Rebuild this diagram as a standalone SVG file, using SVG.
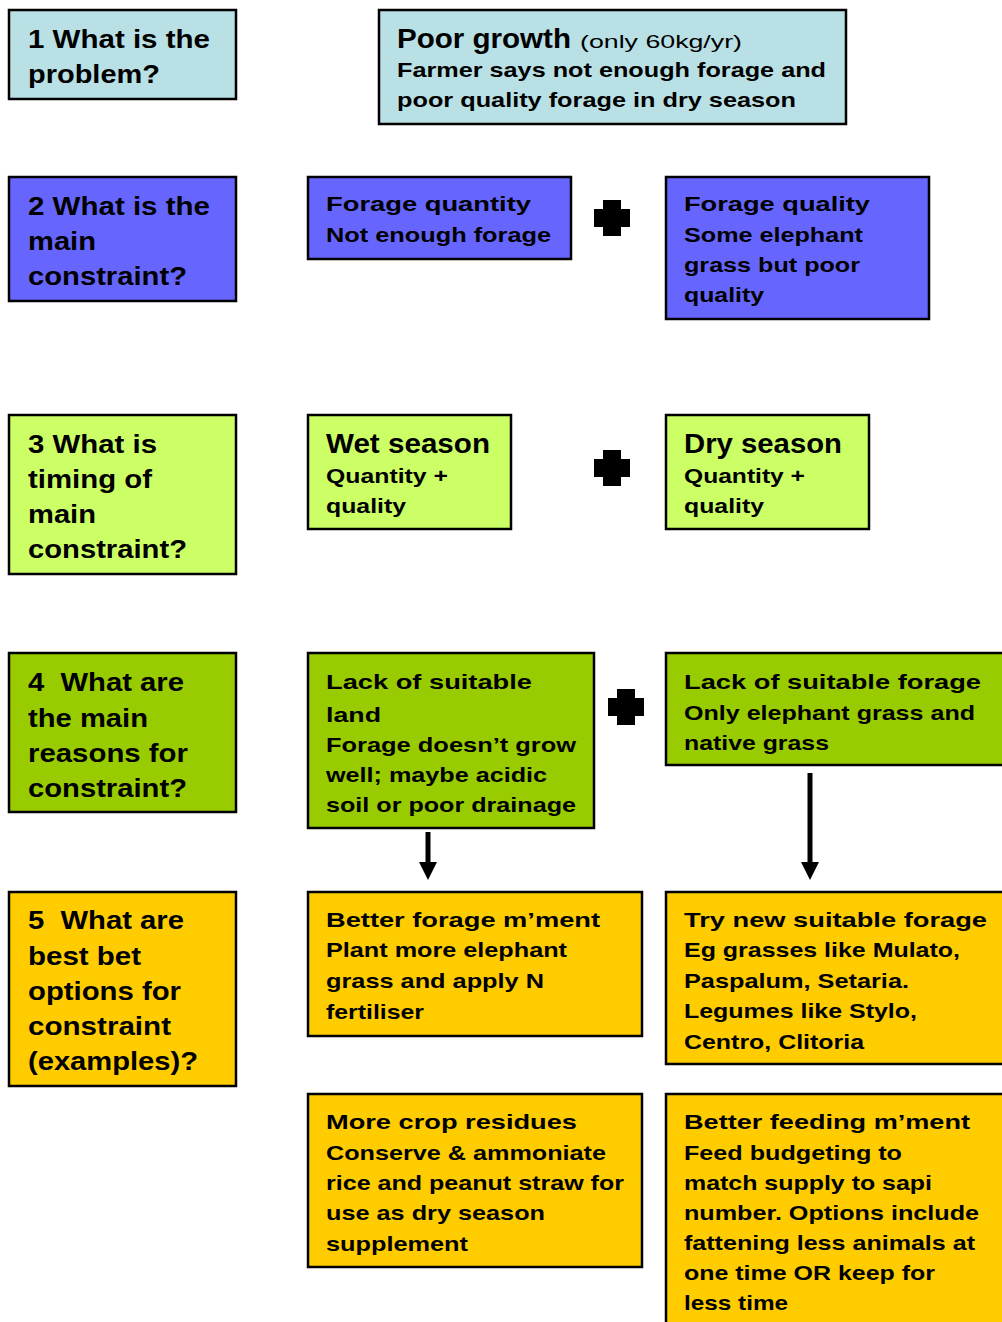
<svg xmlns="http://www.w3.org/2000/svg" width="1002" height="1322" viewBox="0 0 1002 1322">
<style>
text{font-family:"Liberation Sans",Arial,sans-serif;font-weight:bold;fill:#000}
.h{font-size:26px}
.b{font-size:21px}
.t{font-size:27px}
.s{font-size:19px;font-weight:normal}
rect{stroke:#000;stroke-width:2.5}
.c1{fill:#b9e0e4}.c2{fill:#6666ff}.c3{fill:#ccff66}.c4{fill:#99cc00}.c5{fill:#ffcc00}
.plus{fill:#000}
.arr{stroke:#000;stroke-width:5}
</style>
<defs>
<marker id="ah" viewBox="0 0 18 18" refX="0" refY="9" markerWidth="18" markerHeight="18" orient="auto" markerUnits="userSpaceOnUse"><path d="M0,0L18,9L0,18z" fill="#000"/></marker>
<path id="cross" d="M-9,-18H9V-9H18V9H9V18H-9V9H-18V-9H-9Z"/>
</defs>
<g id="n1"><rect class="c1" x="9" y="10" width="227" height="89"/>
<text class="h" x="28" y="48" textLength="182" lengthAdjust="spacingAndGlyphs">1 What is the</text>
<text class="h" x="28" y="83" textLength="132" lengthAdjust="spacingAndGlyphs">problem?</text></g>
<g id="n1b"><rect class="c1" x="379" y="10" width="467" height="114"/>
<text x="397" y="48"><tspan class="t" textLength="174" lengthAdjust="spacingAndGlyphs">Poor growth</tspan><tspan class="s" x="580" textLength="162" lengthAdjust="spacingAndGlyphs">(only 60kg/yr)</tspan></text>
<text class="b" x="397" y="77" textLength="429" lengthAdjust="spacingAndGlyphs">Farmer says not enough forage and</text>
<text class="b" x="397" y="107" textLength="399" lengthAdjust="spacingAndGlyphs">poor quality forage in dry season</text></g>

<g id="n2"><rect class="c2" x="9" y="177" width="227" height="124"/>
<text class="h" x="28" y="215" textLength="182" lengthAdjust="spacingAndGlyphs">2 What is the</text>
<text class="h" x="28" y="250" textLength="68" lengthAdjust="spacingAndGlyphs">main</text>
<text class="h" x="28" y="285" textLength="159" lengthAdjust="spacingAndGlyphs">constraint?</text></g>
<g id="n2a"><rect class="c2" x="308" y="177" width="263" height="82"/>
<text class="b" x="326" y="211" textLength="205" lengthAdjust="spacingAndGlyphs">Forage quantity</text>
<text class="b" x="326" y="242" textLength="225" lengthAdjust="spacingAndGlyphs">Not enough forage</text></g>
<g id="n2b"><rect class="c2" x="666" y="177" width="263" height="142"/>
<text class="b" x="684" y="211" textLength="186" lengthAdjust="spacingAndGlyphs">Forage quality</text>
<text class="b" x="684" y="242" textLength="179" lengthAdjust="spacingAndGlyphs">Some elephant</text>
<text class="b" x="684" y="272" textLength="176" lengthAdjust="spacingAndGlyphs">grass but poor</text>
<text class="b" x="684" y="302" textLength="80" lengthAdjust="spacingAndGlyphs">quality</text></g>

<g id="n3"><rect class="c3" x="9" y="415" width="227" height="159"/>
<text class="h" x="28" y="453" textLength="129" lengthAdjust="spacingAndGlyphs">3 What is</text>
<text class="h" x="28" y="488" textLength="124" lengthAdjust="spacingAndGlyphs">timing of</text>
<text class="h" x="28" y="523" textLength="68" lengthAdjust="spacingAndGlyphs">main</text>
<text class="h" x="28" y="558" textLength="159" lengthAdjust="spacingAndGlyphs">constraint?</text></g>
<g id="n3a"><rect class="c3" x="308" y="415" width="203" height="114"/>
<text class="t" x="326" y="453" textLength="164" lengthAdjust="spacingAndGlyphs">Wet season</text>
<text class="b" x="326" y="483" textLength="122" lengthAdjust="spacingAndGlyphs">Quantity +</text>
<text class="b" x="326" y="513" textLength="80" lengthAdjust="spacingAndGlyphs">quality</text></g>
<g id="n3b"><rect class="c3" x="666" y="415" width="203" height="114"/>
<text class="t" x="684" y="453" textLength="158" lengthAdjust="spacingAndGlyphs">Dry season</text>
<text class="b" x="684" y="483" textLength="121" lengthAdjust="spacingAndGlyphs">Quantity +</text>
<text class="b" x="684" y="513" textLength="80" lengthAdjust="spacingAndGlyphs">quality</text></g>

<g id="n4"><rect class="c4" x="9" y="653" width="227" height="159"/>
<text class="h" x="28" y="691" textLength="156" lengthAdjust="spacingAndGlyphs" xml:space="preserve">4  What are</text>
<text class="h" x="28" y="727" textLength="120" lengthAdjust="spacingAndGlyphs">the main</text>
<text class="h" x="28" y="762" textLength="160" lengthAdjust="spacingAndGlyphs">reasons for</text>
<text class="h" x="28" y="797" textLength="159" lengthAdjust="spacingAndGlyphs">constraint?</text></g>
<g id="n4a"><rect class="c4" x="308" y="653" width="286" height="175"/>
<text class="b" x="326" y="689" textLength="206" lengthAdjust="spacingAndGlyphs">Lack of suitable</text>
<text class="b" x="326" y="722" textLength="55" lengthAdjust="spacingAndGlyphs">land</text>
<text class="b" x="326" y="752" textLength="250" lengthAdjust="spacingAndGlyphs">Forage doesn’t grow</text>
<text class="b" x="326" y="782" textLength="221" lengthAdjust="spacingAndGlyphs">well; maybe acidic</text>
<text class="b" x="326" y="812" textLength="250" lengthAdjust="spacingAndGlyphs">soil or poor drainage</text></g>
<g id="n4b"><rect class="c4" x="666" y="653" width="340" height="112"/>
<text class="b" x="684" y="689" textLength="297" lengthAdjust="spacingAndGlyphs">Lack of suitable forage</text>
<text class="b" x="684" y="720" textLength="291" lengthAdjust="spacingAndGlyphs">Only elephant grass and</text>
<text class="b" x="684" y="750" textLength="145" lengthAdjust="spacingAndGlyphs">native grass</text></g>

<g id="n5"><rect class="c5" x="9" y="892" width="227" height="194"/>
<text class="h" x="28" y="929" textLength="156" lengthAdjust="spacingAndGlyphs" xml:space="preserve">5  What are</text>
<text class="h" x="28" y="965" textLength="113" lengthAdjust="spacingAndGlyphs">best bet</text>
<text class="h" x="28" y="1000" textLength="153" lengthAdjust="spacingAndGlyphs">options for</text>
<text class="h" x="28" y="1035" textLength="143" lengthAdjust="spacingAndGlyphs">constraint</text>
<text class="h" x="28" y="1070" textLength="170" lengthAdjust="spacingAndGlyphs">(examples)?</text></g>
<g id="n5a"><rect class="c5" x="308" y="892" width="334" height="144"/>
<text class="b" x="326" y="927" textLength="274" lengthAdjust="spacingAndGlyphs">Better forage m’ment</text>
<text class="b" x="326" y="957" textLength="241" lengthAdjust="spacingAndGlyphs">Plant more elephant</text>
<text class="b" x="326" y="988" textLength="218" lengthAdjust="spacingAndGlyphs">grass and apply N</text>
<text class="b" x="326" y="1019" textLength="98" lengthAdjust="spacingAndGlyphs">fertiliser</text></g>
<g id="n5b"><rect class="c5" x="666" y="892" width="340" height="172"/>
<text class="b" x="684" y="927" textLength="303" lengthAdjust="spacingAndGlyphs">Try new suitable forage</text>
<text class="b" x="684" y="957" textLength="276" lengthAdjust="spacingAndGlyphs">Eg grasses like Mulato,</text>
<text class="b" x="684" y="988" textLength="225" lengthAdjust="spacingAndGlyphs">Paspalum, Setaria.</text>
<text class="b" x="684" y="1018" textLength="233" lengthAdjust="spacingAndGlyphs">Legumes like Stylo,</text>
<text class="b" x="684" y="1049" textLength="180" lengthAdjust="spacingAndGlyphs">Centro, Clitoria</text></g>
<g id="n6a"><rect class="c5" x="308" y="1094" width="334" height="173"/>
<text class="b" x="326" y="1129" textLength="251" lengthAdjust="spacingAndGlyphs">More crop residues</text>
<text class="b" x="326" y="1160" textLength="280" lengthAdjust="spacingAndGlyphs">Conserve &amp; ammoniate</text>
<text class="b" x="326" y="1190" textLength="298" lengthAdjust="spacingAndGlyphs">rice and peanut straw for</text>
<text class="b" x="326" y="1220" textLength="219" lengthAdjust="spacingAndGlyphs">use as dry season</text>
<text class="b" x="326" y="1251" textLength="142" lengthAdjust="spacingAndGlyphs">supplement</text></g>
<g id="n6b"><rect class="c5" x="666" y="1094" width="340" height="240"/>
<text class="b" x="684" y="1129" textLength="286" lengthAdjust="spacingAndGlyphs">Better feeding m’ment</text>
<text class="b" x="684" y="1160" textLength="218" lengthAdjust="spacingAndGlyphs">Feed budgeting to</text>
<text class="b" x="684" y="1190" textLength="248" lengthAdjust="spacingAndGlyphs">match supply to sapi</text>
<text class="b" x="684" y="1220" textLength="295" lengthAdjust="spacingAndGlyphs">number. Options include</text>
<text class="b" x="684" y="1250" textLength="291" lengthAdjust="spacingAndGlyphs">fattening less animals at</text>
<text class="b" x="684" y="1280" textLength="251" lengthAdjust="spacingAndGlyphs">one time OR keep for</text>
<text class="b" x="684" y="1310" textLength="104" lengthAdjust="spacingAndGlyphs">less time</text></g>

<g id="connectors">
<use href="#cross" class="plus" x="612" y="218"/>
<use href="#cross" class="plus" x="612" y="468"/>
<use href="#cross" class="plus" x="626" y="707"/>
<line class="arr" x1="428" y1="832" x2="428" y2="862" marker-end="url(#ah)"/>
<line class="arr" x1="810" y1="773" x2="810" y2="862" marker-end="url(#ah)"/>
</g>
</svg>
